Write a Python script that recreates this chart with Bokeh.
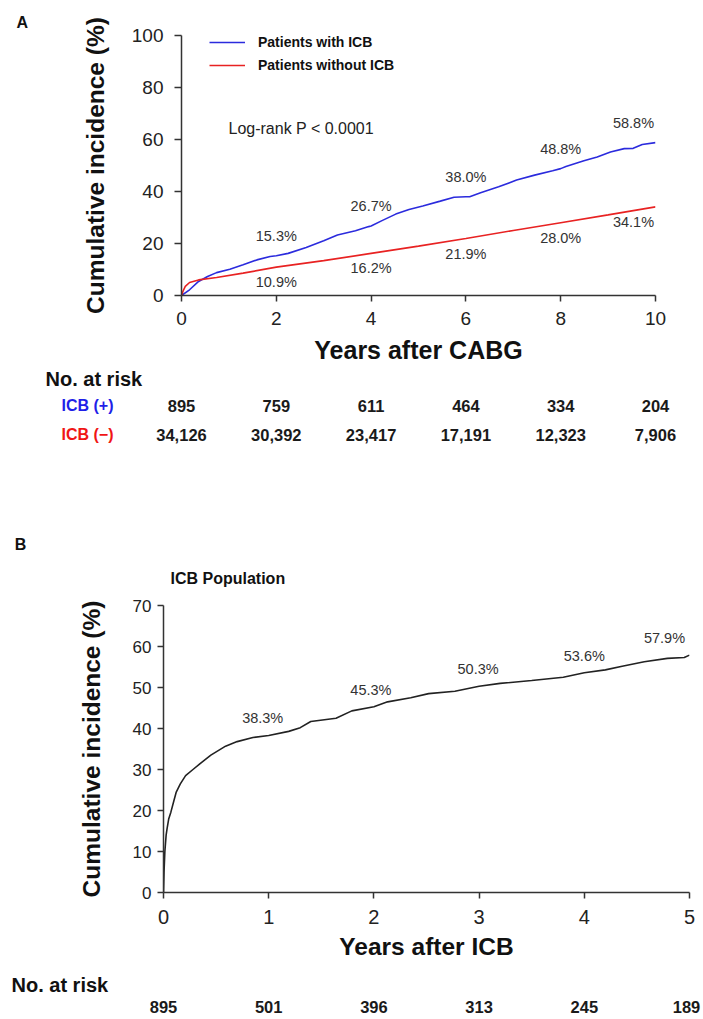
from bokeh.plotting import figure
from bokeh.models import Range1d, ColumnDataSource, LabelSet, Label, Legend, LegendItem
from bokeh.embed import file_html
from bokeh.resources import INLINE
from bokeh.core.properties import value

# ---------------- data ----------------
a_time_icb = [0, 0.17, 0.36, 0.55, 0.74, 1.02, 1.3, 1.59, 1.87, 2.0, 2.25, 2.63, 3.0, 3.29, 3.67, 3.95, 4.0,
              4.23, 4.52, 4.8, 5.09, 5.46, 5.75, 6.0, 6.08, 6.31, 6.69, 7.07, 7.45, 7.83, 8.0, 8.11, 8.49,
              8.77, 9.05, 9.34, 9.53, 9.72, 10.0]
a_inc_icb = [0, 2.2, 5.4, 7.3, 8.8, 10.1, 11.8, 13.7, 15.0, 15.3, 16.2, 18.5, 21.1, 23.3, 24.9, 26.5, 26.7,
             28.8, 31.3, 33.1, 34.4, 36.3, 37.8, 38.0, 38.0, 39.5, 41.8, 44.4, 46.3, 48.0, 48.8, 49.6, 51.8,
             53.3, 55.2, 56.5, 56.6, 58.1, 58.8]
a_time_ctl = [0, 0.04, 0.08, 0.17, 0.36, 0.74, 1.3, 2.0, 3.0, 4.0, 5.0, 6.0, 7.0, 8.0, 9.0, 10.0]
a_inc_ctl = [0, 2.0, 3.5, 5.0, 6.0, 6.9, 8.6, 10.9, 13.4, 16.2, 19.0, 21.9, 25.0, 28.0, 31.0, 34.1]

a_label_years = [2, 4, 6, 8, 10]
a_label_icb = ["15.3%", "26.7%", "38.0%", "48.8%", "58.8%"]
a_label_icb_val = [15.3, 26.7, 38.0, 48.8, 58.8]
a_label_ctl = ["10.9%", "16.2%", "21.9%", "28.0%", "34.1%"]
a_label_ctl_val = [10.9, 16.2, 21.9, 28.0, 34.1]

a_xticks = [0, 2, 4, 6, 8, 10]
a_yticks = [0, 20, 40, 60, 80, 100]

risk_years_a = [0, 2, 4, 6, 8, 10]
risk_icb_pos = ["895", "759", "611", "464", "334", "204"]
risk_icb_neg = ["34,126", "30,392", "23,417", "17,191", "12,323", "7,906"]

b_time = [0, 0.005, 0.013, 0.025, 0.034, 0.05, 0.07, 0.1, 0.12, 0.16, 0.21, 0.28, 0.36, 0.45, 0.59, 0.7,
          0.85, 1.0, 1.19, 1.3, 1.4, 1.64, 1.79, 2.0, 2.13, 2.35, 2.52, 2.77, 3.0, 3.2, 3.5, 3.8, 4.0,
          4.2, 4.36, 4.57, 4.79, 4.95, 5.0]
b_inc = [0, 5, 10, 14, 15.6, 18, 19.6, 22.5, 24.4, 26.5, 28.5, 30, 31.7, 33.5, 35.7, 36.8,
         37.8, 38.3, 39.3, 40.2, 41.7, 42.5, 44.3, 45.3, 46.5, 47.5, 48.5, 49.1, 50.3, 51.0, 51.7, 52.5, 53.6,
         54.3, 55.2, 56.3, 57.1, 57.3, 57.9]
b_label_years = [1, 2, 3, 4, 5]
b_label_vals = [38.3, 45.3, 50.3, 53.6, 57.9]
b_label_text = ["38.3%", "45.3%", "50.3%", "53.6%", "57.9%"]
b_xticks = [0, 1, 2, 3, 4, 5]
b_yticks = [0, 10, 20, 30, 40, 50, 60, 70]

risk_years_b = [0, 1, 2, 3, 4, 5]
risk_b = ["895", "501", "396", "313", "245", "189"]

# ---------------- style / layout (page pixels) ----------------
FONT = "Liberation Sans"
W = 703
BLUE = "#2b2bdd"
RED = "#e82222"
AX = "#333333"
DARK = "#111111"

# panel A chart frame
A_TOP, A_FL, A_FR, A_FT, A_FB, A_BOT = 0, 181, 655, 35, 296, 366
A_SX = (A_FR - A_FL) / 10.0
A_SY = (A_FB - A_FT) / 100.0
# table A + header B block
T_TOP, T_BOT = A_BOT, 592
# panel B chart frame
B_TOP, B_FL, B_FR, B_FT, B_FB, B_BOT = T_BOT, 163, 689, 605, 894, 962
B_SX = (B_FR - B_FL) / 5.0
B_SY = (B_FB - B_FT) / 70.0
TB_TOP, TB_BOT = B_BOT, 1018


def style_axes(p, tick_x, tick_y, title_x, title_y):
    for ax in (p.xaxis[0], p.yaxis[0]):
        ax.axis_line_color = AX
        ax.axis_line_width = 1.5
        ax.major_tick_line_color = AX
        ax.major_tick_line_width = 1.5
        ax.major_tick_in = 0
        ax.major_tick_out = 6
        ax.minor_tick_line_color = None
        ax.major_label_text_font = FONT
        ax.major_label_text_color = "#222222"
        ax.axis_label_text_font = FONT
        ax.axis_label_text_font_style = "bold"
        ax.axis_label_text_color = DARK
    p.xaxis[0].major_label_text_font_size = tick_x
    p.yaxis[0].major_label_text_font_size = tick_y
    p.xaxis[0].axis_label_text_font_size = title_x
    p.yaxis[0].axis_label_text_font_size = title_y
    p.grid.visible = False
    p.outline_line_color = None


def text_fig(top, bot, x0, x1):
    f = figure(width=W, height=bot - top, x_range=Range1d(x0, x1), y_range=Range1d(bot - top, 0),
               x_axis_type=None, y_axis_type=None, toolbar_location=None, output_backend="svg",
               min_border=0)
    f.grid.visible = False
    f.outline_line_color = None
    return f


def put(f, x, y, txt, size, color=DARK, bold=True, align="center", dx=0):
    f.text(x=x, y=y, text=txt, text_align=align, text_baseline="middle", text_font=value(FONT),
           text_font_size=size, text_font_style="bold" if bold else "normal", text_color=color,
           x_offset=dx)


# ================= Panel A chart =================
pa = figure(width=W, height=A_BOT - A_TOP, x_range=Range1d(0, 10), y_range=Range1d(0, 100),
            toolbar_location=None, output_backend="svg",
            min_border_left=A_FL, min_border_right=W - A_FR, min_border_top=A_FT - A_TOP,
            min_border_bottom=A_BOT - A_FB)
style_axes(pa, "19px", "19px", "25px", "24.5px")
pa.title.text = "A"
pa.title.align = "left"
pa.title.offset = 16 - A_FL
pa.title.standoff = 10
pa.title.text_font = FONT
pa.title.text_font_size = "16px"
pa.title.text_font_style = "bold"
pa.title.text_color = DARK
pa.xaxis.ticker = a_xticks
pa.yaxis.ticker = a_yticks
pa.xaxis.axis_label = "Years after CABG"
pa.yaxis.axis_label = "Cumulative incidence (%)"
pa.xaxis.major_label_standoff = 10
pa.yaxis.major_label_standoff = 11
pa.yaxis.major_tick_out = 7
pa.xaxis.axis_label_standoff = 8
pa.yaxis.axis_label_standoff = 20

r_icb = pa.line(a_time_icb, a_inc_icb, line_color=BLUE, line_width=1.6)
r_ctl = pa.line(a_time_ctl, a_inc_ctl, line_color=RED, line_width=1.6)

leg = Legend(items=[LegendItem(label="Patients with ICB", renderers=[r_icb]),
                    LegendItem(label="Patients without ICB", renderers=[r_ctl])],
             location=(28, A_FB - 76), padding=0, margin=0, spacing=3, glyph_width=36, glyph_height=20,
             label_height=20, label_standoff=13, border_line_color=None, background_fill_alpha=0,
             label_text_font=FONT, label_text_font_style="bold", label_text_font_size="14px",
             label_text_color=DARK)
pa.add_layout(leg)

edge_shift = [0, 0, 0, 0, -22]
src_a1 = ColumnDataSource(dict(x=a_label_years, y=a_label_icb_val, text=a_label_icb, dx=edge_shift))
src_a2 = ColumnDataSource(dict(x=a_label_years, y=a_label_ctl_val, text=a_label_ctl, dx=edge_shift))
for src, off in ((src_a1, 20), (src_a2, -15)):
    pa.add_layout(LabelSet(x="x", y="y", text="text", source=src, x_offset="dx", y_offset=off,
                           text_align="center", text_baseline="middle", text_font=value(FONT),
                           text_font_size="14.5px", text_color="#333333"))

pa.add_layout(Label(x=(228 - A_FL) / A_SX, y=(A_FB - 128) / A_SY, text="Log-rank P < 0.0001",
                    text_align="left", text_baseline="middle", text_font=FONT, text_font_size="16px",
                    text_color="#222222"))

# ================= Panel A risk table + header B =================
ta = text_fig(T_TOP, T_BOT, (0 - A_FL) / A_SX, (W - A_FL) / A_SX)


def tax(px):
    return (px - A_FL) / A_SX


def tay(py):
    return py - T_TOP


put(ta, [tax(45)], [tay(378)], ["No. at risk"], "20px", align="left")
put(ta, [tax(87)], [tay(405)], ["ICB (+)"], "16px", color="#1f1fe8")
put(ta, [tax(87)], [tay(434)], ["ICB (\u2212)"], "16px", color="#f01515")
put(ta, risk_years_a, [tay(405)] * len(risk_years_a), risk_icb_pos, "16.5px", color="#1a1a1a")
put(ta, risk_years_a, [tay(434)] * len(risk_years_a), risk_icb_neg, "16.5px", color="#1a1a1a")
put(ta, [tax(20)], [tay(544)], ["B"], "16px")
put(ta, [tax(170)], [tay(578)], ["ICB Population"], "16px", align="left")

# ================= Panel B chart =================
pb = figure(width=W, height=B_BOT - B_TOP, x_range=Range1d(0, 5), y_range=Range1d(0, 70),
            toolbar_location=None, output_backend="svg",
            min_border_left=B_FL, min_border_right=W - B_FR, min_border_top=B_FT - B_TOP,
            min_border_bottom=B_BOT - B_FB)
style_axes(pb, "20px", "17px", "24.5px", "24.5px")
pb.xaxis.ticker = b_xticks
pb.yaxis.ticker = b_yticks
pb.xaxis.axis_label = "Years after ICB"
pb.yaxis.axis_label = "Cumulative incidence (%)"
pb.xaxis.major_label_standoff = 11
pb.yaxis.major_label_standoff = 6
pb.xaxis.axis_label_standoff = 6
pb.yaxis.axis_label_standoff = 25

pb.line(b_time, b_inc, line_color="#222222", line_width=1.6)
src_b = ColumnDataSource(dict(x=b_label_years, y=b_label_vals, text=b_label_text, dx=[-6, -3, -1, 0, -25]))
pb.add_layout(LabelSet(x="x", y="y", text="text", source=src_b, x_offset="dx", y_offset=17,
                       text_align="center", text_baseline="middle", text_font=value(FONT),
                       text_font_size="14.5px", text_color="#333333"))

# ================= Panel B risk table =================
tb = text_fig(TB_TOP, TB_BOT, (0 - B_FL) / B_SX, (W - B_FL) / B_SX)
put(tb, [(11 - B_FL) / B_SX], [984 - TB_TOP], ["No. at risk"], "20px", align="left")
put(tb, risk_years_b, [1006 - TB_TOP] * len(risk_years_b), risk_b, "16.5px", color="#1a1a1a",
    dx=[0, 0, 0, 0, 0, -3])

open("out.html", "w").write(file_html([pa, ta, pb, tb], INLINE))
